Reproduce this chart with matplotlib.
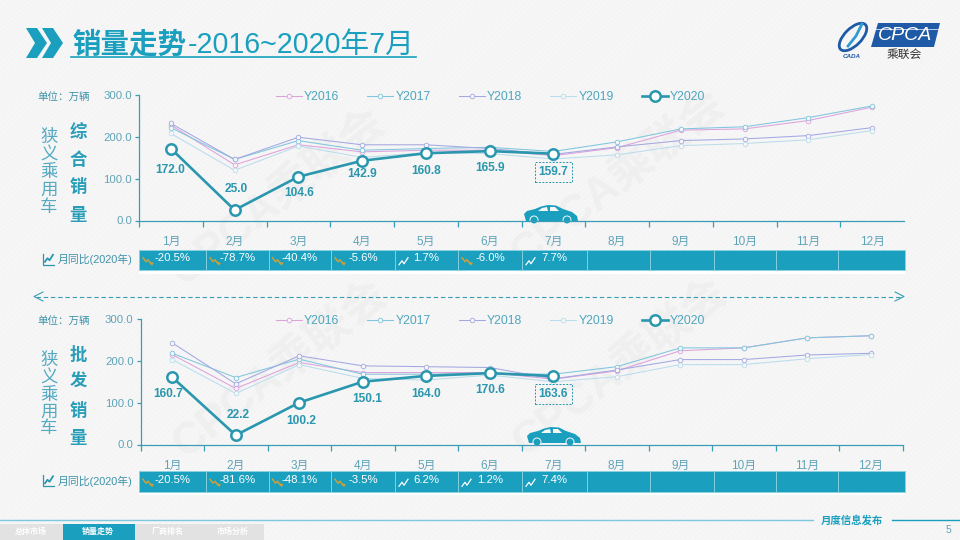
import matplotlib
matplotlib.use('Agg')
import matplotlib.pyplot as plt
from matplotlib.patches import Polygon, Rectangle, Circle, Ellipse

FONT = ['Liberation Sans', 'Noto Sans CJK SC']
plt.rcParams['font.family'] = FONT
plt.rcParams['hatch.linewidth'] = 0.4

# ------------------------------------------------------------
# Data
# ------------------------------------------------------------
months = ['1月', '2月', '3月', '4月', '5月', '6月', '7月', '8月', '9月', '10月', '11月', '12月']
year_labels = ['Y2016', 'Y2017', 'Y2018', 'Y2019', 'Y2020']

retail_2016 = [228, 133, 181, 164, 168, 168, 155, 174, 216, 219, 239, 271]
retail_2017 = [222, 146, 191, 168, 172, 175, 165, 188, 219, 224, 246, 274]
retail_2018 = [232, 146, 199, 181, 181, 172, 158, 176, 191, 195, 203, 222]
retail_2019 = [208, 120, 178, 151, 162, 160, 147, 157, 179, 184, 193, 215]
retail_2020 = [172.0, 25.0, 104.6, 142.9, 160.8, 165.9, 159.7]
retail_yoy = ['-20.5%', '-78.7%', '-40.4%', '-5.6%', '1.7%', '-6.0%', '7.7%']

whole_2016 = [215, 134, 196, 172, 172, 172, 156, 176, 224, 231, 255, 260]
whole_2017 = [218, 160, 204, 168, 168, 170, 168, 186, 231, 231, 255, 260]
whole_2018 = [243, 145, 212, 188, 186, 184, 157, 178, 203, 203, 214, 218]
whole_2019 = [203, 122, 191, 158, 154, 166, 150, 162, 191, 191, 205, 215]
whole_2020 = [160.7, 22.2, 100.2, 150.1, 164.0, 170.6, 163.6]
whole_yoy = ['-20.5%', '-81.6%', '-48.1%', '-3.5%', '6.2%', '1.2%', '7.4%']

y_ticks = [0, 100, 200, 300]

# ------------------------------------------------------------
# Styles
# ------------------------------------------------------------
TEAL = '#1A9FBF'
LINE = '#2A97AE'
AXIS = '#3A9DB5'
TICKTXT = '#5FA3B8'
COLORS = ['#DDA2DC', '#7FC6DE', '#A3A8E2', '#B9DDEC']
PX = 0.72  # points per pixel at dpi 100

fig = plt.figure(figsize=(9.6, 5.4), dpi=100)

# page layer in pixel coordinates
bg = fig.add_axes([0, 0, 1, 1], zorder=0)
bg.set_xlim(0, 960)
bg.set_ylim(540, 0)
bg.axis('off')
bg.add_patch(Rectangle((0, 0), 960, 540, facecolor='#F6F6F6', edgecolor='#F2F2F2',
                       hatch='//////', lw=0, zorder=0))

for wx, wy in [(278, 198), (618, 180), (280, 370), (620, 368)]:
    bg.text(wx, wy, 'CPCA乘联会', fontsize=32, fontweight='bold', color='#EFEFEF',
            rotation=38, rotation_mode='anchor', ha='center', va='center', zorder=0.5)

# header
for dx in [0, 16]:
    bg.add_patch(Polygon([(26 + dx, 28), (37 + dx, 28), (47 + dx, 43), (37 + dx, 58),
                          (26 + dx, 58), (35 + dx, 43)], color=TEAL, lw=0))
bg.text(72, 53, '销量走势', fontsize=20.5, fontweight='bold', color=TEAL, va='baseline')
bg.text(188, 53, '-2016~2020年7月', fontsize=20.6, color=TEAL, va='baseline')
bg.plot([71, 416], [57, 57], color=TEAL, lw=1.2)

# logo
bg.add_patch(Polygon([(878, 23), (940, 23), (934, 47), (871, 47)], color='#1F5AA6', lw=0))
bg.plot([874, 938], [29, 29], color='white', lw=0.5)
bg.text(905, 36, 'CPCA', fontsize=14, style='italic', color='white', ha='center', va='center')
bg.text(904, 55, '乘联会', fontsize=8.5, color='#333333', ha='center', va='center')
bg.add_patch(Ellipse((853, 37), 35, 17, angle=-45, fill=False, ec='#1F5AA6', lw=2))
bg.plot([848, 856, 862], [46, 36, 24], color='#2F9BD0', lw=2)
bg.text(852, 56, 'CADA', fontsize=4.5, style='italic', fontweight='bold', color='#1F5AA6',
        ha='center', va='center')

# divider with open arrowheads
bg.plot([36, 902], [296.5, 296.5], color=AXIS, lw=0.8, dashes=(4, 2.5))
bg.plot([43, 34, 43], [292, 296.5, 301], color=AXIS, lw=0.8)
bg.plot([895, 904, 895], [292, 296.5, 301], color=AXIS, lw=0.8)

# footer
bg.plot([0, 813], [519.5, 519.5], color='#7CC8DC', lw=1)
bg.plot([892, 960], [519.5, 519.5], color=TEAL, lw=1)
bg.text(852, 520, '月度信息发布', fontsize=7.5, fontweight='bold', color=TEAL, ha='center', va='center')
bg.text(948, 530, '5', fontsize=7.5, color='#5FA3B8', ha='center', va='center')
bg.add_patch(Rectangle((0, 524), 264, 16, color='#E2E2E2', lw=0))
bg.add_patch(Rectangle((63, 524), 72, 16, color=TEAL, lw=0))
for tab_x, tab in zip([31, 98, 168, 233], ['总体市场', '销量走势', '厂商排名', '市场分析']):
    bg.text(tab_x, 531.5, tab, fontsize=5.8, fontweight='bold', color='white', ha='center', va='center')

CELL_EDGES = [139, 206, 268.5, 331, 395, 458, 522, 586.5, 650, 713.5, 776, 838, 905]


def draw_icon(x, y, up):
    # small trend glyph in a yoy cell
    if up:
        bg.plot([x, x + 3, x + 5, x + 9], [y + 4, y, y + 3, y - 3], color='white', lw=0.9)
    else:
        bg.plot([x, x + 3, x + 5, x + 8], [y - 3, y + 1, y - 1, y + 3], color='#C9A03C', lw=1.1)
        bg.add_patch(Polygon([(x + 7, y + 1), (x + 11, y + 2), (x + 9, y + 5)], color='#C9A03C',
                             lw=0, zorder=2))


def draw_car(dx, dy):
    bg.add_patch(Polygon([(524 + dx, 214 + dy), (527 + dx, 211 + dy), (535 + dx, 209 + dy),
                          (541 + dx, 206.5 + dy), (548 + dx, 205 + dy), (556 + dx, 205.5 + dy),
                          (563 + dx, 209 + dy), (572 + dx, 212 + dy), (577 + dx, 216 + dy),
                          (578 + dx, 221 + dy), (526 + dx, 221 + dy)], color=TEAL, lw=0))
    bg.add_patch(Polygon([(538 + dx, 211 + dy), (542 + dx, 208 + dy), (547 + dx, 207 + dy),
                          (548 + dx, 211 + dy)], color='#F6F6F6', lw=0))
    bg.add_patch(Polygon([(550 + dx, 207 + dy), (555 + dx, 207 + dy), (559 + dx, 211 + dy),
                          (550 + dx, 211 + dy)], color='#F6F6F6', lw=0))
    for cx in [534, 567]:
        bg.add_patch(Circle((cx + dx, 220 + dy), 4, fc=TEAL, ec='#F6F6F6', lw=0.7))


def draw_panel(left, width, top, bottom, series, current, yoy, label_dx, label_dy,
               side_title, side_ys, narrow_ys, row_top, row_bottom, end_tick):
    ax = fig.add_axes([left / 960, 1 - bottom / 540, width / 960, (bottom - top) / 540], zorder=2)
    ax.patch.set_alpha(0)
    x = list(range(12))
    for vals, col, name in zip(series, COLORS, year_labels):
        ax.plot(x, vals, color=col, lw=0.75, marker='o', ms=3.3, mfc='#F6F6F6', mec=col,
                mew=0.6, label=name, clip_on=False)
    ax.plot(x[:len(current)], current, color=LINE, lw=1.9, marker='o', ms=7.5, mfc='white',
            mec=LINE, mew=1.8, label=year_labels[4], zorder=5, clip_on=False)
    ax.set_xlim(-0.5, 11.5)
    ax.set_ylim(0, 300)

    for side in ['top', 'right']:
        ax.spines[side].set_visible(False)
    for side in ['left', 'bottom']:
        ax.spines[side].set_color(AXIS)
        ax.spines[side].set_linewidth(0.9)

    edges = [i - 0.5 for i in range(13 if end_tick else 12)]
    ax.set_xticks(edges)
    ax.set_xticklabels([])
    ax.tick_params(axis='x', which='major', length=4, width=0.9, color=AXIS)
    ax.set_xticks(x, minor=True)
    ax.set_xticklabels(months, minor=True, fontsize=8.5, color=TICKTXT)
    ax.tick_params(axis='x', which='minor', length=0, pad=11)
    ax.set_yticks(y_ticks)
    ax.set_yticklabels([f'{v:.1f}' for v in y_ticks], fontsize=8.2, color=TICKTXT)
    ax.tick_params(axis='y', length=3, width=0.9, color=AXIS, pad=2)

    for i, v in enumerate(current):
        bbox = None
        if i == len(current) - 1:
            bbox = dict(boxstyle='square,pad=0.32', fc='none', ec=LINE, lw=0.7, ls=(0, (2, 1.5)))
        ax.annotate(f'{v:.1f}', (i, v), xytext=(label_dx[i] * PX, label_dy[i] * PX),
                    textcoords='offset points', ha='center', va='center', fontsize=8.6,
                    fontweight='bold', color=LINE, bbox=bbox, zorder=6)

    ax.legend(loc='center left', bbox_to_anchor=((276 - left) / width, (bottom - (top + 2)) / (bottom - top)),
              ncol=5, frameon=False, fontsize=8.8, labelcolor='#4FA6BE', handlelength=2.1,
              handletextpad=0.2, columnspacing=2.3, borderpad=0, borderaxespad=0)

    # side labels
    bg.text(37, top + 3, '单位：万辆', fontsize=7.6, color='#3F93AA', ha='left', va='center')
    for ch, cy in zip('狭义乘用车', narrow_ys):
        bg.text(49, cy, ch, fontsize=12.5, color='#55AAC2', ha='center', va='center')
    for ch, cy in zip(side_title, side_ys):
        bg.text(78, cy, ch, fontsize=12.5, fontweight='bold', color='#2A9DB8', ha='center', va='center')

    # yoy row
    mid = (row_top + row_bottom) / 2
    bg.add_patch(Rectangle((139, row_bottom), 766, 3.5, color='white', lw=0))
    bg.plot([43, 43, 54], [mid - 6, mid + 5, mid + 5], color=LINE, lw=0.9)
    bg.plot([45, 47.5, 49.5, 53], [mid + 2, mid - 1.5, mid + 0.5, mid - 5], color=LINE, lw=1.3)
    bg.text(58, mid, '月同比(2020年)', fontsize=7.8, color='#3F93AA', ha='left', va='center')
    for i in range(12):
        x0, x1 = CELL_EDGES[i], CELL_EDGES[i + 1]
        bg.add_patch(Rectangle((x0, row_top), x1 - x0, row_bottom - row_top, fc=TEAL, ec='#8AD2E2', lw=0.6))
        if i < len(yoy):
            bg.text((x0 + x1) / 2, mid - 1.5, yoy[i], fontsize=8.2, color='white', ha='center', va='center')
            draw_icon(x0 + 4, mid + 1, not yoy[i].startswith('-'))


retail_series = [retail_2016, retail_2017, retail_2018, retail_2019]
whole_series = [whole_2016, whole_2017, whole_2018, whole_2019]

# offsets of the 2020 labels from their points, pixels
retail_dx = [-1, 1.5, 1, 0, 0, 0, 0]
retail_dy = [-21, 21, -16, -13, -18, -17, -18]
whole_dx = [-4, 2, 2, 4, 0, 0, 0]
whole_dy = [-17, 20, -18, -17, -18, -17, -18]

draw_panel(139, 765, 95, 220.5, retail_series, retail_2020, retail_yoy, retail_dx, retail_dy,
           '综合销量', [132, 160, 187, 215], [137, 155, 172, 190, 207], 249.5, 270, False)
draw_panel(140.5, 762, 319, 444.5, whole_series, whole_2020, whole_yoy, whole_dx, whole_dy,
           '批发销量', [354, 382, 410, 438], [360, 378, 395, 412, 428], 471, 491.5, True)

draw_car(0, 0)
draw_car(3, 222)

fig.savefig('out.png', dpi=100)
plt.close()
